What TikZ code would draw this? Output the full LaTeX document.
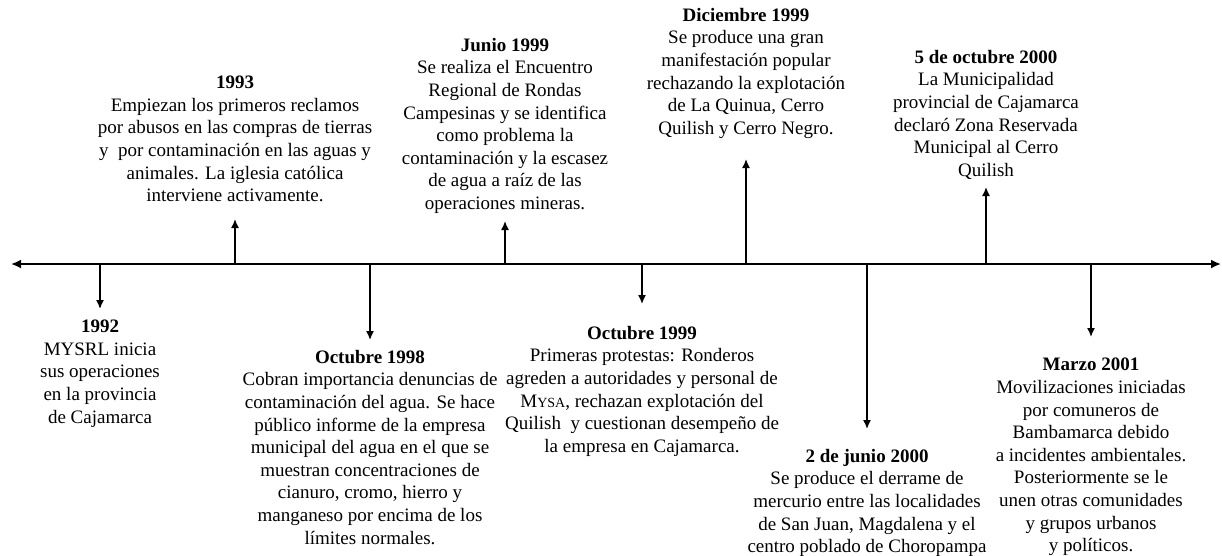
\documentclass[tikz,border=0pt]{standalone}
\usepackage{fontspec}
\setmainfont{Liberation Serif}
\usetikzlibrary{arrows.meta}
\begin{document}
\begin{tikzpicture}[x=1pt,y=-1pt,
  ev/.style={align=center, inner sep=0pt, anchor=north, font=\fontsize{19}{22.6}\selectfont},
  axisline/.style={line width=1.8pt, {Latex[length=10pt,width=9pt]}-{Latex[length=10pt,width=9pt]}},
  arr/.style={line width=1.5pt, -{Latex[length=9pt,width=8pt]}}]
\useasboundingbox (0,0) rectangle (1222,555);
% axis
\coordinate (L) at (11,264);
\coordinate (R) at (1221,264);
\draw[axisline] (L) -- (R);
% tick base points and tips
\coordinate (b1) at (100,264);  \coordinate (e1) at (100,309);
\coordinate (b2) at (235,264);  \coordinate (e2) at (235,219);
\coordinate (b3) at (370,264);  \coordinate (e3) at (370,340);
\coordinate (b4) at (505,264);  \coordinate (e4) at (505,221);
\coordinate (b5) at (642,264);  \coordinate (e5) at (642,304);
\coordinate (b6) at (746,264);  \coordinate (e6) at (746,159);
\coordinate (b7) at (867,264);  \coordinate (e7) at (867,429);
\coordinate (b8) at (986,264);  \coordinate (e8) at (986,187);
\coordinate (b9) at (1091,264); \coordinate (e9) at (1091,337);
\foreach \i in {1,...,9}{\draw[arr] (b\i) -- (e\i);}
% texts
\node[ev] (n1) at (100,320) {\textbf{1992}\\MYSRL inicia\\sus operaciones\\en la provincia\\de Cajamarca};
\node[ev] (n2) at (235,76) {\textbf{1993}\\Empiezan los primeros reclamos\\por abusos en las compras de tierras\\y\ \ por contaminación en las aguas y\\animales. La iglesia católica\\interviene activamente.};
\node[ev] (n3) at (370,350) {\textbf{Octubre 1998}\\Cobran importancia denuncias de\\contaminación del agua. Se hace\\público informe de la empresa\\municipal del agua en el que se\\muestran concentraciones de\\cianuro, cromo, hierro y\\manganeso por encima de los\\límites normales.};
\node[ev] (n4) at (505,38) {\textbf{Junio 1999}\\Se realiza el Encuentro\\Regional de Rondas\\Campesinas y se identifica\\como problema la\\contaminación y la escasez\\de agua a raíz de las\\operaciones mineras.};
\node[ev] (n5) at (642,326) {\textbf{Octubre 1999}\\Primeras protestas: Ronderos\\agreden a autoridades y personal de\\M{\fontsize{14}{14}\selectfont YSA}, rechazan explotación del\\Quilish\ \ y cuestionan desempeño de\\la empresa en Cajamarca.};
\node[ev] (n6) at (746,8) {\textbf{Diciembre 1999}\\Se produce una gran\\manifestación popular\\rechazando la explotación\\de La Quinua, Cerro\\Quilish y Cerro Negro.};
\node[ev] (n7) at (867,449) {\textbf{2 de junio 2000}\\Se produce el derrame de\\mercurio entre las localidades\\de San Juan, Magdalena y el\\centro poblado de Choropampa};
\node[ev] (n8) at (986,50) {\textbf{5 de octubre 2000}\\La Municipalidad\\provincial de Cajamarca\\declaró Zona Reservada\\Municipal al Cerro\\Quilish};
\node[ev] (n9) at (1091,358) {\textbf{Marzo 2001}\\Movilizaciones iniciadas\\por comuneros de\\Bambamarca debido\\a incidentes ambientales.\\Posteriormente se le\\unen otras comunidades\\y grupos urbanos\\y políticos.};
\end{tikzpicture}
\end{document}
